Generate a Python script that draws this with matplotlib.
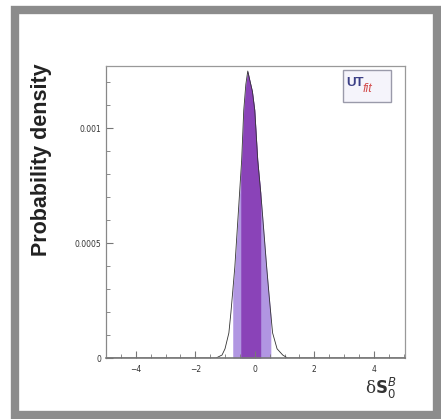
import matplotlib
matplotlib.use("Agg")
import matplotlib.pyplot as plt
import numpy as np
from matplotlib.patches import Rectangle
from matplotlib.ticker import MultipleLocator, FixedFormatter, FixedLocator

# density
ds_x = [-5.0, -1.3, -1.1, -1.0, -0.87, -0.80, -0.74, -0.67, -0.54, -0.47,
        -0.44, -0.37, -0.30, -0.235, -0.17, -0.08, 0.0, 0.10, 0.20, 0.24,
        0.40, 0.47, 0.54, 0.60, 0.75, 0.94, 1.1, 5.0]
ds_y = [0.0, 0.0, 0.000013, 0.00004, 0.000109, 0.0002, 0.00029, 0.000396, 0.000657, 0.00080,
        0.000861, 0.001078, 0.00119, 0.001248, 0.00121, 0.00116, 0.001078, 0.000861, 0.00072, 0.000657,
        0.000396, 0.00029, 0.00019, 0.000109, 0.00004, 0.000013, 0.0, 0.0]

band68 = (-0.47, 0.20)
band95 = (-0.74, 0.54)

ytick_vals = [0, 0.0005, 0.001]
ytick_labels = ["0", "0.0005", "0.001"]
xtick_vals = [-4, -2, 0, 2, 4]

W, H = 441, 419
fig = plt.figure(figsize=(W / 100, H / 100), dpi=100, facecolor="white")

# grey frame around the whole picture
fig.patches.append(Rectangle((15 / W, 4 / H), 422 / W, 405 / H, transform=fig.transFigure,
                             fill=False, edgecolor="#8c8c8c", linewidth=6, zorder=0))

ax = fig.add_axes([106 / W, (H - 358) / H, 299 / W, 292 / H])

x = np.array(ds_x)
y = np.array(ds_y)
m95 = (x >= band95[0]) & (x <= band95[1])
m68 = (x >= band68[0]) & (x <= band68[1])
ax.fill_between(x[m95], 0, y[m95], color="#b196e2", linewidth=0)
ax.fill_between(x[m68], 0, y[m68], color="#8a43b8", linewidth=0)
ax.plot(x, y, color="#333333", linewidth=0.6)

ax.set_xlim(-5, 5.05)
ax.set_ylim(0, 0.00127)

ax.xaxis.set_major_locator(FixedLocator(xtick_vals))
ax.xaxis.set_minor_locator(MultipleLocator(0.5))
ax.yaxis.set_major_locator(FixedLocator(ytick_vals))
ax.yaxis.set_major_formatter(FixedFormatter(ytick_labels))
ax.yaxis.set_minor_locator(MultipleLocator(0.0001))

ax.tick_params(which="both", direction="in", color="#777777", labelsize=5.5,
               labelcolor="#333333", top=False, right=False)
ax.tick_params(which="major", length=5, width=0.8)
ax.tick_params(which="minor", length=3, width=0.6)
ax.tick_params(axis="x", pad=5)

for s in ax.spines.values():
    s.set_color("#999999")
    s.set_linewidth(0.9)
ax.spines["left"].set_color("#888888")
ax.spines["bottom"].set_color("#777777")
ax.spines["bottom"].set_linewidth(1.2)

ax.set_ylabel("Probability density", fontsize=15.5, fontweight="bold",
              family="Liberation Sans", color="#222222")
ax.yaxis.set_label_coords(-0.18, 0.678)

fig.text(381 / W, (H - 388) / H, r"δ$\mathbf{S}_0^B$", fontsize=12,
         ha="center", va="center", color="#333333", family="DejaVu Serif")

# UTfit logo box
fig.patches.append(Rectangle((343 / W, (H - 102) / H), 48 / W, 32 / H, transform=fig.transFigure,
                             facecolor="#f5f4fb", edgecolor="#9a9aaa", linewidth=1.0, zorder=3))
fig.text(346 / W, (H - 83) / H, "UT", fontsize=9.5, fontweight="bold", color="#3b3f86",
         family="Liberation Sans", va="center", zorder=4)
fig.text(363 / W, (H - 89) / H, "fit", fontsize=9, style="italic", color="#d45050",
         family="Liberation Sans", va="center", zorder=4)

fig.savefig("out.png", dpi=100, facecolor="white")
